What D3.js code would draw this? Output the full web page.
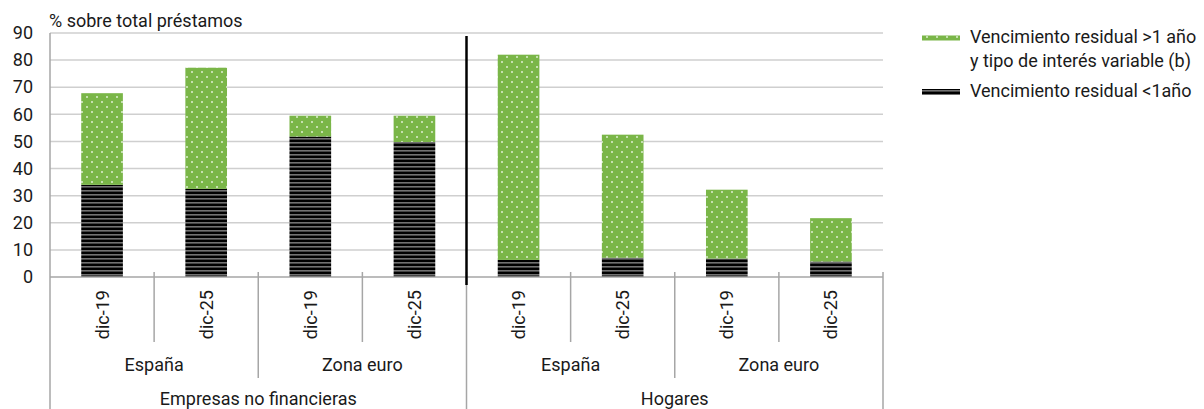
<!DOCTYPE html>
<html>
<head>
<meta charset="utf-8">
<script src="https://cdn.jsdelivr.net/npm/d3@7"></script>
<style>
  html, body { margin: 0; padding: 0; background: #fff; }
  svg { display: block; font-family: Roboto, "Noto Sans", sans-serif; }
</style>
</head>
<body>
<svg id="chart" width="1204" height="409"></svg>
<script>
// Loan composition by sector, region and date (% of total loans)
const sectors = ["Empresas no financieras", "Hogares"];
const regions = ["España", "Zona euro"];
const dates = ["dic-19", "dic-25"];
const seriesNames = ["Vencimiento residual <1año", "Vencimiento residual >1 año y tipo de interés variable (b)"];
// residual maturity under one year
const shortMaturity = [34, 32.5, 51.8, 49.8, 6.3, 7.1, 6.8, 5.7];
// residual maturity over one year with variable rate
const longVariable = [33.8, 44.7, 7.7, 9.7, 75.7, 45.4, 25.4, 16.0];
const yTicks = [0, 10, 20, 30, 40, 50, 60, 70, 80, 90];

const rows = [];
sectors.forEach(s => regions.forEach(r => dates.forEach(d => {
  const i = rows.length;
  rows.push({ key: s + "|" + r + "|" + d, sector: s, region: r, date: d,
              short: shortMaturity[i], long: longVariable[i] });
})));

const svg = d3.select("#chart");
const plotLeft = 50, plotRight = 883, plotTop = 33, plotBase = 277;
const fontSize = 18, textColor = "#1a1a1a";

const x = d3.scaleBand().domain(rows.map(d => d.key))
  .range([plotLeft, plotRight]).paddingInner(0.6).paddingOuter(0.3);
const y = d3.scaleLinear().domain([0, 90]).range([plotBase, plotTop]);

// fill patterns
const defs = svg.append("defs");
const dots = defs.append("pattern").attr("id", "dots")
  .attr("patternUnits", "userSpaceOnUse").attr("width", 10).attr("height", 10);
dots.append("rect").attr("width", 10).attr("height", 10).attr("fill", "#7ab648");
[[2, 2], [7, 7]].forEach(([cx, cy]) => {
  dots.append("rect").attr("x", cx - 0.75).attr("y", cy - 0.75)
    .attr("width", 1.5).attr("height", 1.5).attr("fill", "#ffffff");
});
const stripes = defs.append("pattern").attr("id", "stripes")
  .attr("patternUnits", "userSpaceOnUse").attr("width", 8).attr("height", 4);
stripes.append("rect").attr("width", 8).attr("height", 4).attr("fill", "#000");
stripes.append("rect").attr("y", 2).attr("width", 8).attr("height", 1.6).attr("fill", "#727272");

// gridlines
svg.append("g").selectAll("line").data(yTicks.filter(t => t > 0)).join("line")
  .attr("x1", plotLeft).attr("x2", plotRight)
  .attr("y1", d => y(d)).attr("y2", d => y(d))
  .attr("stroke", "#cfcfcf").attr("stroke-width", 1.5);

// y axis labels
const yAxis = svg.append("g").attr("transform", `translate(${plotLeft},0)`)
  .call(d3.axisLeft(y).tickValues(yTicks).tickSize(0).tickPadding(17));
yAxis.select(".domain").remove();
yAxis.selectAll("text").attr("font-size", fontSize).attr("fill", textColor)
  .attr("font-family", "Roboto, sans-serif");

// stacked bars
const stack = d3.stack().keys(["short", "long"]);
const layers = stack(rows);
const fills = { short: "url(#stripes)", long: "url(#dots)" };
svg.append("g").selectAll("g").data(layers).join("g")
  .attr("fill", d => fills[d.key])
  .selectAll("rect").data(d => d).join("rect")
  .attr("x", d => x(d.data.key))
  .attr("width", x.bandwidth())
  .attr("y", d => y(d[1]))
  .attr("height", d => y(d[0]) - y(d[1]));

// axes lines
const axisColor = "#a6a6a6";
svg.append("line").attr("x1", plotLeft).attr("x2", plotLeft).attr("y1", plotTop).attr("y2", 409)
  .attr("stroke", axisColor).attr("stroke-width", 1.5);
svg.append("line").attr("x1", plotLeft).attr("x2", plotRight).attr("y1", plotBase).attr("y2", plotBase)
  .attr("stroke", axisColor).attr("stroke-width", 1.5);

const step = x.step();
const catTop = plotBase - 5;
// boundaries between dates, regions and sectors
rows.forEach((d, i) => {
  if (i === 0) return;
  const bx = plotLeft + i * step;
  let y2 = 342;
  if (i % 2 === 0) y2 = 378;
  if (i % 4 === 0) y2 = 409;
  svg.append("line").attr("x1", bx).attr("x2", bx).attr("y1", catTop).attr("y2", y2)
    .attr("stroke", axisColor).attr("stroke-width", 1.5);
});
svg.append("line").attr("x1", plotRight).attr("x2", plotRight).attr("y1", catTop).attr("y2", 409)
  .attr("stroke", axisColor).attr("stroke-width", 1.5);

// date labels (rotated)
svg.append("g").selectAll("text").data(rows).join("text")
  .attr("transform", d => `translate(${x(d.key) + x.bandwidth() / 2 + 6.5},290) rotate(-90)`)
  .attr("text-anchor", "end").attr("font-size", fontSize).attr("fill", textColor)
  .text(d => d.date);

// region labels
const regionGroups = [];
sectors.forEach((s, si) => regions.forEach((r, ri) => regionGroups.push({ r, idx: si * 2 + ri })));
svg.append("g").selectAll("text").data(regionGroups).join("text")
  .attr("x", d => plotLeft + (d.idx * 2 + 1) * step)
  .attr("y", 371).attr("text-anchor", "middle").attr("font-size", fontSize).attr("fill", textColor)
  .text(d => d.r);

// sector labels
svg.append("g").selectAll("text").data(sectors).join("text")
  .attr("x", (d, i) => plotLeft + (i * 4 + 2) * step)
  .attr("y", 405).attr("text-anchor", "middle").attr("font-size", fontSize).attr("fill", textColor)
  .text(d => d);

// divider between sectors
svg.append("line").attr("x1", plotLeft + 4 * step).attr("x2", plotLeft + 4 * step)
  .attr("y1", 36).attr("y2", 285).attr("stroke", "#000").attr("stroke-width", 2.5);

// unit title
svg.append("text").attr("x", 49).attr("y", 27).attr("font-size", fontSize).attr("fill", textColor)
  .text("% sobre total préstamos");

// legend
const lg = svg.append("g");
lg.append("rect").attr("x", 922).attr("y", 35.5).attr("width", 38).attr("height", 5)
  .attr("fill", "url(#dots)");
lg.append("text").attr("x", 970).attr("y", 43).attr("font-size", fontSize).attr("fill", textColor)
  .text("Vencimiento residual >1 año");
lg.append("text").attr("x", 970).attr("y", 67).attr("font-size", fontSize).attr("fill", textColor)
  .text("y tipo de interés variable (b)");
lg.append("rect").attr("x", 922).attr("y", 89).attr("width", 38).attr("height", 6)
  .attr("fill", "url(#stripes)");
lg.append("text").attr("x", 970).attr("y", 97).attr("font-size", fontSize).attr("fill", textColor)
  .text(seriesNames[0]);
</script>
</body>
</html>
